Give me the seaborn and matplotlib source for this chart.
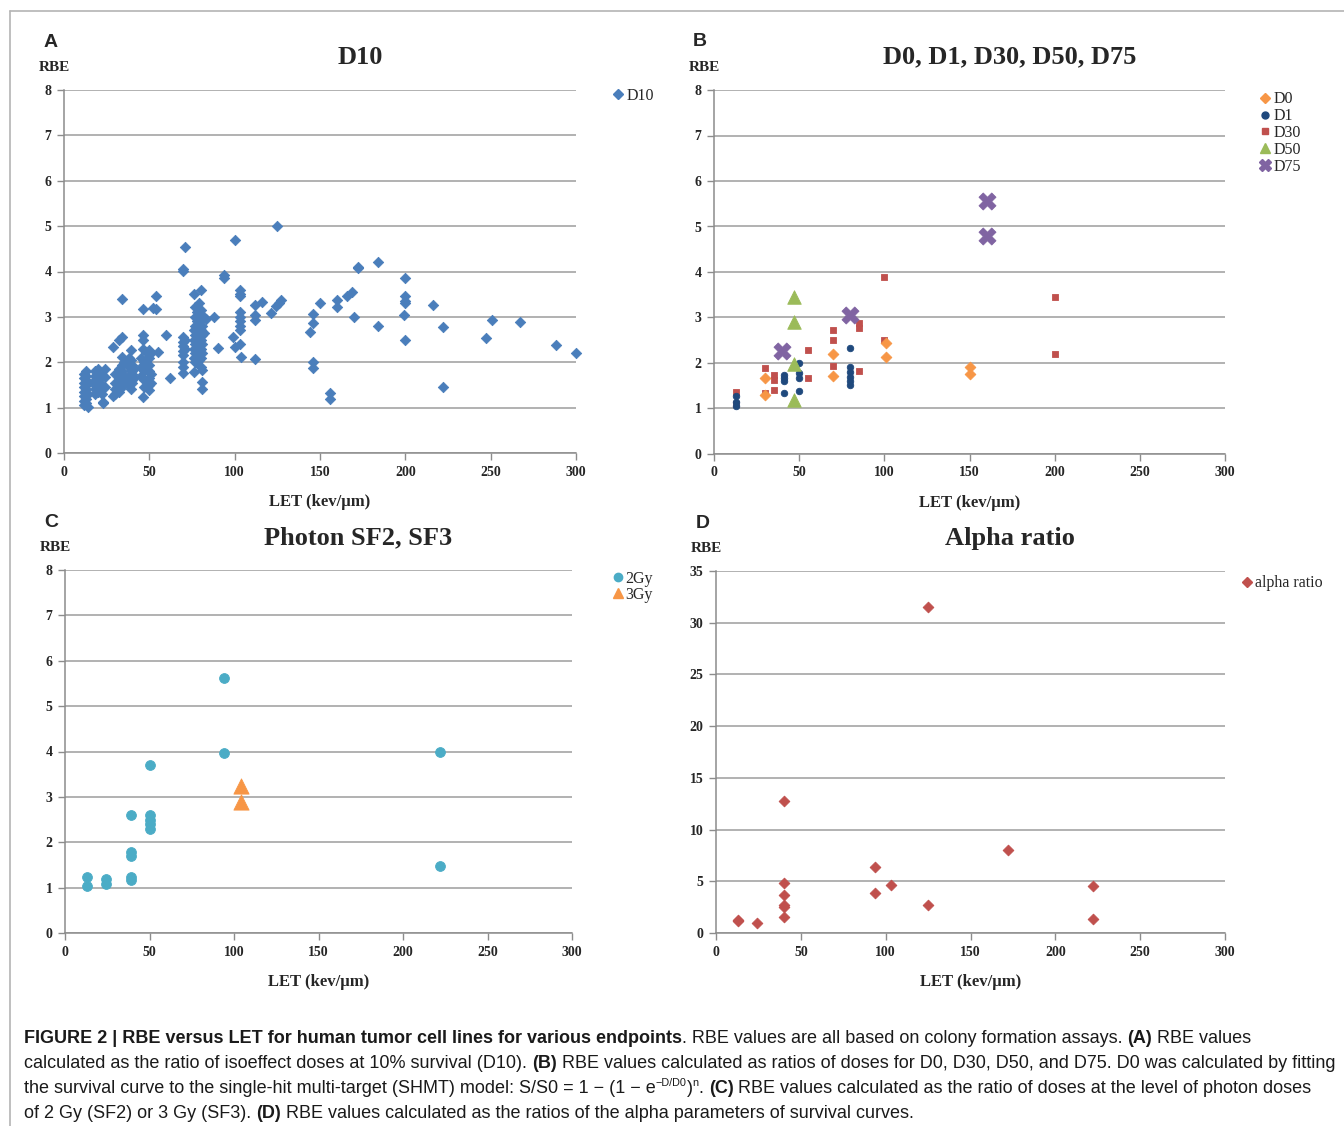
import matplotlib
matplotlib.use("Agg")
import matplotlib.pyplot as plt
import seaborn as sns
import numpy as np
from matplotlib.lines import Line2D
from matplotlib import font_manager

# ---------------- data ----------------
d10_let = [12, 12, 12, 12, 12, 12, 12, 12, 13, 13, 13, 13, 13, 13, 13, 13, 14, 14, 14,
           18, 18, 18, 18, 18, 18, 20, 20, 20, 20, 20, 20, 22, 22, 22, 23, 23, 24, 24, 24,
           29, 29, 30, 30, 30, 30, 32, 32, 32, 32, 32, 34, 34, 34, 34, 34, 34, 34, 35, 35, 35, 36,
           38, 38, 38, 38, 39, 39, 39, 39, 39, 40, 40, 40, 41, 41,
           45, 45, 45, 46, 46, 46, 46, 46, 47, 47, 47, 47, 48, 48, 48,
           50, 50, 50, 50, 50, 50, 50, 51, 51, 51, 52, 54, 54, 55, 60, 62,
           71, 70, 70, 70, 70, 70, 70, 70, 70, 70, 70, 71, 71,
           76, 76, 76, 76, 76, 76, 77, 77, 77, 77, 77, 77, 77, 78, 78, 78, 78, 78, 78, 78,
           79, 79, 79, 79, 79, 79, 79, 80, 80, 80, 80, 80, 80, 80, 80,
           81, 81, 81, 81, 81, 81, 81, 82, 82, 83, 88, 90, 94, 94,
           100, 99, 100, 103, 103, 103, 103, 103, 103, 103, 103, 103, 104,
           112, 112, 112, 112, 116, 121, 124, 126, 127, 125,
           144, 146, 146, 146, 146, 150, 156, 156, 160, 160, 166, 169, 170, 172, 172,
           184, 184, 199, 200, 200, 200, 200, 200, 216, 222, 222, 247, 251, 267, 288, 300]
d10_rbe = [1.05, 1.15, 1.25, 1.35, 1.45, 1.55, 1.65, 1.75, 1.1, 1.2, 1.3, 1.4, 1.5, 1.6, 1.7, 1.8, 1.02, 1.3, 1.55,
           1.3, 1.4, 1.5, 1.6, 1.7, 1.8, 1.35, 1.45, 1.55, 1.65, 1.75, 1.85, 1.3, 1.5, 1.7, 1.1, 1.13, 1.86, 1.68, 1.45,
           2.33, 1.25, 1.75, 1.55, 1.4, 1.3, 2.48, 1.85, 1.65, 1.5, 1.35, 3.4, 2.55, 2.12, 1.94, 1.8, 1.6, 1.45, 2.0, 1.7, 1.55, 1.65,
           2.1, 1.9, 1.7, 1.5, 2.27, 2.05, 1.8, 1.6, 1.42, 1.95, 1.75, 1.55, 1.85, 1.65,
           2.1, 1.9, 1.7, 3.17, 2.6, 2.5, 2.3, 1.24, 2.0, 1.8, 1.6, 1.45, 2.23, 2.05, 1.85,
           2.27, 2.1, 1.95, 1.8, 1.65, 1.5, 1.39, 2.2, 1.75, 1.55, 3.2, 3.47, 3.17, 2.23, 2.6, 1.66,
           4.53, 4.02, 4.06, 2.56, 2.45, 2.35, 2.25, 2.15, 2.0, 1.9, 1.76, 2.5, 2.3,
           3.5, 2.7, 2.5, 2.3, 2.1, 1.79, 3.22, 3.0, 2.8, 2.6, 2.4, 2.2, 2.0, 3.1, 2.9, 2.75, 2.55, 2.35, 2.15, 1.98,
           3.3, 3.05, 2.85, 2.65, 2.45, 2.25, 2.05, 3.59, 3.15, 2.95, 2.7, 2.5, 2.3, 2.1, 1.9,
           2.8, 2.6, 2.4, 2.2, 1.83, 1.57, 1.4, 3.0, 2.65, 2.95, 2.99, 2.31, 3.92, 3.85,
           4.7, 2.56, 2.34, 3.6, 3.5, 3.45, 3.1, 3.0, 2.9, 2.8, 2.7, 2.41, 2.12,
           3.26, 3.04, 2.93, 2.08, 3.32, 3.09, 3.23, 3.3, 3.38, 5.0,
           2.67, 3.06, 2.86, 2.0, 1.88, 3.3, 1.33, 1.18, 3.38, 3.22, 3.46, 3.55, 2.99, 4.08, 4.1,
           4.2, 2.8, 3.04, 3.86, 3.47, 3.36, 3.3, 2.49, 3.27, 2.77, 1.45, 2.53, 2.94, 2.89, 2.38, 2.2]

d0_let = [30, 30, 70, 70, 101, 101, 150, 150]
d0_rbe = [1.66, 1.30, 2.19, 1.71, 2.45, 2.14, 1.91, 1.76]
d1_let = [13, 13, 13, 41, 41, 41, 41, 50, 50, 50, 50, 80, 80, 80, 80, 80, 80]
d1_rbe = [1.27, 1.15, 1.05, 1.74, 1.67, 1.60, 1.35, 2.00, 1.79, 1.66, 1.39, 2.34, 1.92, 1.80, 1.70, 1.60, 1.52]
d30_let = [13, 13, 30, 30, 35, 35, 35, 55, 55, 70, 70, 70, 85, 85, 85, 100, 100, 200, 200]
d30_rbe = [1.37, 1.10, 1.88, 1.33, 1.74, 1.63, 1.41, 2.28, 1.66, 2.73, 2.51, 1.93, 2.87, 2.76, 1.83, 3.90, 2.51, 3.45, 2.20]
d50_let = [47, 47, 47, 47]
d50_rbe = [3.46, 2.91, 1.98, 1.19]
d75_let = [40, 80, 160, 160]
d75_rbe = [2.27, 3.05, 5.56, 4.79]

sf2_let = [13, 13, 24, 24, 39, 39, 39, 39, 39, 50, 50, 50, 50, 50, 94, 94, 222, 222]
sf2_rbe = [1.24, 1.04, 1.20, 1.07, 2.60, 1.79, 1.70, 1.24, 1.17, 3.71, 2.60, 2.49, 2.40, 2.30, 5.61, 3.97, 3.99, 1.47]
sf3_let = [104, 104]
sf3_rbe = [3.24, 2.89]

alpha_let = [13, 13, 24, 40, 40, 40, 40, 40, 40, 94, 94, 103, 125, 125, 172, 222, 222]
alpha_rbe = [1.13, 1.3, 0.97, 12.8, 4.84, 3.71, 2.74, 2.55, 1.58, 6.35, 3.87, 4.68, 31.5, 2.71, 8.03, 4.52, 1.35]

x_ticks = [0, 50, 100, 150, 200, 250, 300]

# ---------------- style ----------------
sns.set_style("white")
plt.rcParams["font.family"] = ["Liberation Serif", "DejaVu Serif"]

def have(name):
    try:
        font_manager.findfont(name, fallback_to_default=False)
        return True
    except Exception:
        return False

CAP_FONT = "Liberation Sans Narrow" if have("Liberation Sans Narrow") else "Liberation Sans"

W, H = 1344, 1126
fig = plt.figure(figsize=(W / 100, H / 100), dpi=100)
fig.patch.set_facecolor("white")

def px_axes(l, t, r, b):
    return fig.add_axes([l / W, 1 - b / H, (r - l) / W, (b - t) / H])

axA = px_axes(64, 90, 576, 453)
axB = px_axes(714, 90, 1225, 454)
axC = px_axes(65, 570, 572, 933)
axD = px_axes(716, 571, 1225, 933)

GRID = "#9c9c9c"

def style_axes(ax, ymax, ystep, title, letter):
    ax.set_xlim(0, 300)
    ax.set_ylim(0, ymax)
    ax.set_xticks(x_ticks)
    ax.set_yticks(np.arange(0, ymax + 0.01, ystep))
    ax.grid(axis="y", color=GRID, lw=1.1)
    ax.grid(axis="x", visible=False)
    ax.set_axisbelow(True)
    for s in ["top", "right"]:
        ax.spines[s].set_visible(False)
    for s in ["left", "bottom"]:
        ax.spines[s].set_color("#8c8c8c")
        ax.spines[s].set_linewidth(1.1)
    ax.tick_params(axis="both", direction="out", length=5, width=1, color="#8c8c8c",
                   labelsize=10, pad=4, left=True, bottom=True)
    plt.setp(ax.get_xticklabels(), fontweight="bold")
    plt.setp(ax.get_yticklabels(), fontweight="bold")
    ax.set_xlabel("LET (kev/μm)", fontweight="bold", fontsize=12, labelpad=11)
    ax.set_ylabel("")
    ax.text(-0.018, 1.063, "RBE", transform=ax.transAxes, ha="center", va="center",
            fontweight="bold", fontsize=11)
    ax.text(0.578, 1.09, title, transform=ax.transAxes, ha="center", va="center",
            fontweight="bold", fontsize=19)
    ax.text(-0.027, 1.132, letter, transform=ax.transAxes, ha="center", va="center",
            fontweight="bold", fontsize=14, family=["Liberation Sans", "DejaVu Sans"])

def scat(ax, x, y, marker, color, s):
    sns.scatterplot(x=x, y=y, marker=marker, color=color, s=s, edgecolor=color,
                    linewidth=0.6, ax=ax, clip_on=False, legend=False, zorder=3)

BLUE = "#4A7EBB"
ORANGE = "#F79646"
NAVY = "#1F497D"
RED = "#C0504D"
GREEN = "#9BBB59"
PURPLE = "#8064A2"
TEAL = "#4BACC6"

# Panel A
scat(axA, d10_let, d10_rbe, "D", BLUE, 28)
style_axes(axA, 8, 1, "D10", "A")

# Panel B
scat(axB, d30_let, d30_rbe, "s", RED, 14)
scat(axB, d0_let, d0_rbe, "D", ORANGE, 30)
scat(axB, d1_let, d1_rbe, "o", NAVY, 22)
scat(axB, d50_let, d50_rbe, "^", GREEN, 95)
scat(axB, d75_let, d75_rbe, "X", PURPLE, 150)
style_axes(axB, 8, 1, "D0, D1, D30, D50, D75", "B")

# Panel C
scat(axC, sf2_let, sf2_rbe, "o", TEAL, 50)
scat(axC, sf3_let, sf3_rbe, "^", ORANGE, 120)
style_axes(axC, 8, 1, "Photon SF2, SF3", "C")

# Panel D
scat(axD, alpha_let, alpha_rbe, "D", RED, 30)
style_axes(axD, 35, 5, "Alpha ratio", "D")

def mk(marker, color, ms):
    return Line2D([], [], marker=marker, color=color, markeredgecolor=color, ls="", markersize=ms)

def leg_kw(spacing=0.02):
    return dict(frameon=False, prop={"family": "Liberation Serif", "size": 11.5},
                handletextpad=0.0, handlelength=1.0, labelspacing=spacing, borderaxespad=0,
                borderpad=0, loc="upper left")

axA.legend([mk("D", BLUE, 5)], ["D10"], bbox_to_anchor=(1.067, 1.006), **leg_kw())
axB.legend([mk("D", ORANGE, 5.5), mk("o", NAVY, 5), mk("s", RED, 4),
            mk("^", GREEN, 7), mk("X", PURPLE, 9)],
           ["D0", "D1", "D30", "D50", "D75"], bbox_to_anchor=(1.063, 0.996), **leg_kw(0.05))
axC.legend([mk("o", TEAL, 6), mk("^", ORANGE, 7)], ["2Gy", "3Gy"],
           bbox_to_anchor=(1.074, 0.998), **leg_kw())
axD.legend([mk("D", RED, 5.5)], ["alpha ratio"], bbox_to_anchor=(1.027, 0.988), **leg_kw())

# frame lines
fig.add_artist(Line2D([10 / W, 1.0], [1 - 11 / H, 1 - 11 / H], color="#b4b4b4", lw=1.2))
fig.add_artist(Line2D([10 / W, 10 / W], [0, 1 - 11 / H], color="#b4b4b4", lw=1.2))

# ---------------- caption ----------------
renderer = fig.canvas.get_renderer()

def seg_width(txt, weight, size):
    t = fig.text(0, 0, txt, fontsize=size, fontweight=weight, family=[CAP_FONT, "DejaVu Sans"])
    w = t.get_window_extent(renderer).width
    t.remove()
    return w

def space_w(weight, size):
    return seg_width("x x", weight, size) - seg_width("xx", weight, size)

B, N = "bold", "normal"
SP = "<sp>"
lines = [
    [("FIGURE 2 | RBE versus LET for human tumor cell lines for various endpoints", B, 0),
     (". RBE values are all based on colony formation assays.", N, 0), (SP, N, 0),
     ("(A)", B, 0), (SP, N, 0), ("RBE values", N, 0)],
    [("calculated as the ratio of isoeffect doses at 10% survival (D10).", N, 0), (SP, N, 0),
     ("(B)", B, 0), (SP, N, 0),
     ("RBE values calculated as ratios of doses for D0, D30, D50, and D75. D0 was calculated by fitting", N, 0)],
    [("the survival curve to the single-hit multi-target (SHMT) model: S/S0 = 1 \u2212 (1 \u2212 e", N, 0),
     ("\u2212D/D0", "sup", 0), (")", N, 0), ("n", "sup", 0), (".", N, 0), (SP, N, 0),
     ("(C)", B, 0), (SP, N, 0),
     ("RBE values calculated as the ratio of doses at the level of photon doses", N, 0)],
    [("of 2 Gy (SF2) or 3 Gy (SF3).", N, 0), (SP, N, 0), ("(D)", B, 0), (SP, N, 0),
     ("RBE values calculated as the ratios of the alpha parameters of survival curves.", N, 0)],
]

def line_width(segs, size):
    w = 0
    for txt, kind, _ in segs:
        if txt == SP:
            w += space_w(N, size)
        elif kind == "sup":
            w += seg_width(txt, N, size * 0.6)
        else:
            w += seg_width(txt, kind, size)
    return w

base = 12.0
target = 1340 - 24
cap_size = base * target / line_width(lines[1], base)

baselines = [1043, 1068, 1093, 1118]
for segs, yb in zip(lines, baselines):
    x = 24.0
    for txt, kind, _ in segs:
        if txt == SP:
            x += space_w(N, cap_size)
            continue
        if kind == "sup":
            size, weight, dy = cap_size * 0.6, N, 7
        else:
            size, weight, dy = cap_size, kind, 0
        t = fig.text(x / W, 1 - (yb - dy) / H, txt, fontsize=size, fontweight=weight,
                     family=[CAP_FONT, "DejaVu Sans"], ha="left", va="baseline", color="#1a1a1a")
        x += t.get_window_extent(renderer).width

fig.savefig("out.png", dpi=100, facecolor="white")
